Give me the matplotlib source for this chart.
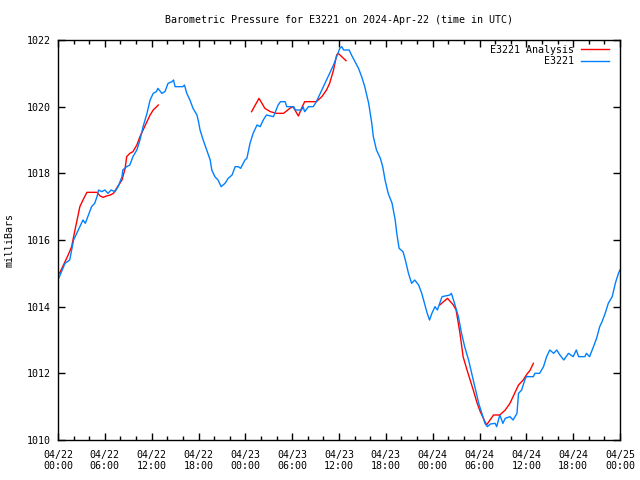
import matplotlib
matplotlib.use("Agg")
import matplotlib.pyplot as plt
import matplotlib.dates as mdates
import numpy as np
from datetime import datetime, timedelta

# hours after 2024-04-22 00:00 UTC, pressure in mb
blue_hours = [0, 0.9, 1.5, 2.0, 2.4, 2.8, 3.2, 3.5, 3.9, 4.3, 4.7, 5.0, 5.2, 5.6, 6.0, 6.4, 6.8,
              7.3, 7.7, 8.2, 8.3, 8.8, 9.2, 9.6, 10.1, 10.5, 10.9, 11.4, 11.8, 12.2, 12.6, 12.8,
              13.3, 13.7, 14.1, 14.6, 14.8, 15.0, 16.0, 16.2, 16.5, 16.9, 17.3, 17.8, 18.0, 18.2,
              18.6, 19.05, 19.5, 19.7, 20.1, 20.5, 20.9, 21.4, 21.8, 22.3, 22.7, 23.1, 23.4, 23.95,
              24.2, 24.6, 25.0, 25.5, 25.9, 26.3, 26.7, 27.6, 28.2, 28.5, 29.1, 29.3, 30.2, 30.4,
              31.2, 31.4, 31.6, 32.1, 32.7, 33.1, 33.6, 34.0, 34.4, 34.8, 35.3, 35.7, 36.1, 36.35,
              36.6, 37.3, 37.6, 38.05, 38.5, 38.9, 39.3, 39.8, 40.2, 40.4, 40.8, 41.3, 41.6, 41.9,
              42.3, 42.8, 43.2, 43.4, 43.7, 44.2, 44.5, 44.9, 45.3, 45.7, 46.2, 46.6, 47.0, 47.3,
              47.6, 47.9, 48.3, 48.6, 49.2, 50.2, 50.4, 50.8, 51.3, 51.7, 52.1, 52.6, 53.0, 53.4,
              53.9, 54.3, 54.7, 55.0, 55.4, 56.0, 56.2, 56.6, 57.0, 57.3, 57.9, 58.3, 58.8, 59.0,
              59.4, 59.8, 60.0, 60.9, 61.1, 61.7, 62.2, 62.6, 63.0, 63.5, 63.9, 64.3, 64.8, 65.4,
              66.0, 66.4, 66.7, 67.5, 67.7, 68.1, 68.6, 69.0, 69.4, 69.7, 70.1, 70.5, 71.0, 71.4,
              71.8, 72.0]
blue_mb = [1014.8, 1015.3, 1015.4, 1016.0, 1016.2, 1016.4, 1016.6, 1016.5, 1016.75, 1017.0, 1017.1,
           1017.3, 1017.5, 1017.45, 1017.5, 1017.4, 1017.5, 1017.45, 1017.6, 1017.9, 1018.1, 1018.2,
           1018.25, 1018.5, 1018.7, 1019.0, 1019.4, 1019.8, 1020.2, 1020.4, 1020.45, 1020.55,
           1020.4, 1020.45, 1020.7, 1020.75, 1020.8, 1020.6, 1020.6, 1020.65, 1020.4, 1020.2,
           1019.95, 1019.75, 1019.55, 1019.3, 1019.0, 1018.7, 1018.4, 1018.1, 1017.9, 1017.8,
           1017.6, 1017.7, 1017.85, 1017.95, 1018.2, 1018.2, 1018.15, 1018.4, 1018.45, 1018.9,
           1019.2, 1019.45, 1019.4, 1019.6, 1019.75, 1019.7, 1020.05, 1020.15, 1020.15, 1020.0,
           1020.0, 1019.9, 1019.9, 1020.0, 1019.85, 1020.0, 1020.0, 1020.15, 1020.4, 1020.6,
           1020.8, 1021.0, 1021.25, 1021.5, 1021.75, 1021.8, 1021.7, 1021.7, 1021.55, 1021.35,
           1021.15, 1020.9, 1020.6, 1020.1, 1019.5, 1019.1, 1018.7, 1018.45, 1018.2, 1017.8,
           1017.4, 1017.1, 1016.6, 1016.2, 1015.75, 1015.65, 1015.4, 1015.0, 1014.7, 1014.8,
           1014.65, 1014.4, 1014.05, 1013.8, 1013.6, 1013.8, 1014.0, 1013.9, 1014.3, 1014.35,
           1014.4, 1014.1, 1013.7, 1013.2, 1012.8, 1012.4, 1012.0, 1011.6, 1011.1, 1010.8,
           1010.5, 1010.4, 1010.48, 1010.5, 1010.4, 1010.75, 1010.5, 1010.65, 1010.7, 1010.6,
           1010.8, 1011.4, 1011.5, 1011.8, 1011.9, 1011.9, 1012.0, 1012.0, 1012.2, 1012.5,
           1012.7, 1012.6, 1012.7, 1012.55, 1012.4, 1012.6, 1012.5, 1012.7, 1012.5, 1012.5,
           1012.6, 1012.5, 1012.8, 1013.05, 1013.4, 1013.55, 1013.8, 1014.1, 1014.3, 1014.7,
           1015.0, 1015.1]

# analysis runs, NaN splits the segments
red_hours = [0.2, 0.9, 1.3, 1.75, 2.0, 2.4, 2.8, 3.2, 3.7, 5.0, 5.4, 5.8, 6.2, 6.7, 7.1, 7.5, 8.2,
             8.6, 8.8, 9.2, 9.6, 10.1, 10.5, 10.9, 11.4, 11.8, 12.2, 12.85,
             18.0,
             24.8, 25.75, 26.5, 27.2, 28.0, 28.9, 29.7, 30.1, 30.8, 31.2, 31.6, 33.1, 33.8, 34.4,
             34.8, 35.3, 35.7, 35.9, 36.35, 36.9,
             42.0,
             48.9, 49.9, 50.65, 51.0, 51.5, 51.9, 52.4, 52.8, 53.2, 53.7, 54.1, 54.5, 54.9, 55.8,
             56.6, 57.3, 57.9, 58.6, 59.0, 59.6, 60.0, 60.5, 60.9]
red_mb = [1015.0, 1015.35, 1015.55, 1015.8, 1016.1, 1016.55, 1017.0, 1017.2, 1017.43, 1017.43,
          1017.32, 1017.28, 1017.32, 1017.35, 1017.4, 1017.55, 1017.8, 1018.15, 1018.5, 1018.6,
          1018.65, 1018.85, 1019.1, 1019.3, 1019.55, 1019.75, 1019.9, 1020.05,
          np.nan,
          1019.85, 1020.25, 1019.95, 1019.85, 1019.8, 1019.8, 1019.95, 1020.0, 1019.72, 1019.95,
          1020.15, 1020.15, 1020.3, 1020.5, 1020.7, 1021.1, 1021.55, 1021.6, 1021.5, 1021.38,
          np.nan,
          1014.05, 1014.25, 1014.05, 1013.9, 1013.2, 1012.5, 1012.1, 1011.8, 1011.5, 1011.1,
          1010.85, 1010.65, 1010.45, 1010.75, 1010.75, 1010.9, 1011.1, 1011.45, 1011.65, 1011.8,
          1011.95, 1012.1, 1012.3]

start = datetime(2024, 4, 22)
blue_t = [start + timedelta(hours=h) for h in blue_hours]
red_t = [start + timedelta(hours=h) for h in red_hours]

plt.rcParams['font.family'] = ['DejaVu Sans Mono']
plt.rcParams['font.size'] = 7.2

fig = plt.figure(figsize=(6.4, 4.8), dpi=100)
ax = fig.add_axes([58/640, 40/480, 562/640, 400/480])

ax.plot(red_t, red_mb, color='#ff0000', lw=1.0, label='E3221 Analysis')
ax.plot(blue_t, blue_mb, color='#0080ff', lw=1.0, label='E3221')

ax.set_xlim(start, start + timedelta(hours=72))
ax.set_ylim(1010, 1022)
ax.set_yticks(np.arange(1010, 1023, 2))
ax.xaxis.set_major_locator(mdates.HourLocator(byhour=[0, 6, 12, 18]))
ax.xaxis.set_minor_locator(mdates.HourLocator(byhour=range(0, 24, 2)))
ax.xaxis.set_major_formatter(mdates.DateFormatter('%m/%d\n%H:%M'))
ax.tick_params(which='both', direction='in', top=True, right=True, color='black')
ax.tick_params(which='major', length=5, width=1, pad=7)
ax.tick_params(axis='y', which='major', pad=5)
ax.tick_params(which='minor', length=3, width=1)
for s in ax.spines.values():
    s.set_linewidth(1.0)

ax.set_ylabel('milliBars', labelpad=9)
fig.suptitle('Barometric Pressure for E3221 on 2024-Apr-22 (time in UTC)', x=339/640, y=1 - 20/480,
             va='center', fontsize=7.2)

ax.legend(loc='upper right', bbox_to_anchor=(0.981, 0.988), frameon=False, markerfirst=False,
          handlelength=2.8, borderaxespad=0, borderpad=0, labelspacing=0.15,
          handletextpad=0.7, fontsize=7.2)

fig.savefig('out.png', dpi=100)
